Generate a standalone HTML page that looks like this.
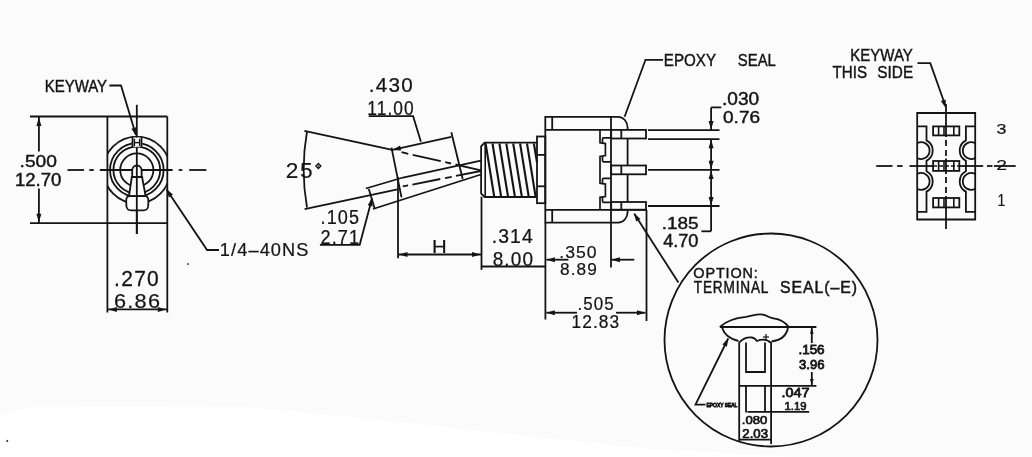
<!DOCTYPE html>
<html><head><meta charset="utf-8"><style>html,body{margin:0;padding:0;background:#fbfbfb;width:1032px;height:457px;overflow:hidden}</style></head>
<body><svg width="1032" height="457" viewBox="0 0 1032 457" style="display:block" stroke="#141414" stroke-linecap="butt"><rect x="0" y="0" width="1032" height="457" fill="#fbfbfb" stroke="none"/>
<path d="M0,414 L40,406 L250,407 L380,420 L490,432 L650,449 L800,457 L0,457 Z" fill="#ffffff" stroke="none"/>
<line x1="30.0" y1="116.5" x2="167.3" y2="116.5" stroke-width="1.8"/>
<line x1="30.0" y1="223.2" x2="167.3" y2="223.2" stroke-width="1.8"/>
<line x1="107.4" y1="116.5" x2="107.4" y2="312.5" stroke-width="1.8"/>
<line x1="167.3" y1="116.5" x2="167.3" y2="312.5" stroke-width="1.8"/>
<line x1="38.9" y1="116.5" x2="38.9" y2="151.5" stroke-width="1.8"/>
<polygon points="38.9,117.5 41.4,126.0 36.4,126.0" fill="#141414" stroke="none"/>
<line x1="38.9" y1="188.5" x2="38.9" y2="223.2" stroke-width="1.8"/>
<polygon points="38.9,222.2 36.4,213.7 41.4,213.7" fill="#141414" stroke="none"/>
<line x1="107.4" y1="309.4" x2="167.3" y2="309.4" stroke-width="1.8"/>
<polygon points="108.4,309.4 116.9,306.9 116.9,311.9" fill="#141414" stroke="none"/>
<polygon points="166.3,309.4 157.8,311.9 157.8,306.9" fill="#141414" stroke="none"/>
<clipPath id="rc"><rect x="107.4" y="100" width="59.9" height="140"/></clipPath>
<g clip-path="url(#rc)">
<circle cx="136.8" cy="170.0" r="33.4" stroke-width="1.8" fill="none"/>
</g>
<circle cx="136.8" cy="170.0" r="26.8" stroke-width="1.8" fill="none"/>
<circle cx="136.8" cy="170.0" r="23.4" stroke-width="1.8" fill="none"/>
<circle cx="136.8" cy="170.0" r="16.6" stroke-width="1.8" fill="none"/>
<rect x="131.9" y="137.6" width="10.3" height="9.2" fill="#fbfbfb" stroke="none"/>
<line x1="132.5" y1="136.2" x2="132.5" y2="147.8" stroke-width="1.8"/>
<line x1="141.5" y1="136.2" x2="141.5" y2="147.8" stroke-width="1.8"/>
<line x1="134.4" y1="138.8" x2="134.4" y2="146.0" stroke-width="1.4"/>
<line x1="139.6" y1="138.8" x2="139.6" y2="146.0" stroke-width="1.4"/>
<line x1="134.4" y1="142.6" x2="139.6" y2="142.6" stroke-width="1.4"/>
<line x1="67.5" y1="170.0" x2="84.0" y2="170.0" stroke-width="1.8"/>
<line x1="89.3" y1="170.0" x2="93.8" y2="170.0" stroke-width="1.8"/>
<line x1="99.8" y1="170.0" x2="172.6" y2="170.0" stroke-width="1.8"/>
<line x1="178.7" y1="170.0" x2="182.4" y2="170.0" stroke-width="1.8"/>
<line x1="189.2" y1="170.0" x2="206.4" y2="170.0" stroke-width="1.8"/>
<line x1="136.8" y1="104.8" x2="136.8" y2="137.5" stroke-width="1.8"/>
<line x1="136.8" y1="147.0" x2="136.8" y2="234.0" stroke-width="1.8"/>
<path d="M132.2,177 L132.2,170.5 A4.7,5 0 0 1 141.6,170.5 L141.6,177 Z" stroke-width="1.8" fill="#fbfbfb"/>
<line x1="132.2" y1="177.0" x2="141.6" y2="177.0" stroke-width="1.8"/>
<path d="M131.8,177 L129,196.2 L145.6,196.2 L142.1,177 Z" stroke-width="1.8" fill="#fbfbfb"/>
<path d="M129,196.2 C126,196.5 126,199 126.4,206 C126.8,209.5 128,210.3 131,210.3 L143.5,210.3 C146.5,210.3 147.8,209.5 148.2,206 C148.6,199 148.5,196.5 145.6,196.2 Z" stroke-width="1.8" fill="#fbfbfb"/>
<line x1="136.8" y1="165.0" x2="136.8" y2="234.0" stroke-width="1.8"/>
<polyline points="109.4,85.5 121.0,85.5 135.8,134.5" stroke-width="1.8" fill="none"/>
<polygon points="136.3,136.2 131.4,128.8 136.2,127.3" fill="#141414" stroke="none"/>
<polyline points="166.7,189.8 207.1,250.0 219.0,250.0" stroke-width="1.8" fill="none"/>
<polygon points="166.2,189.0 173.0,194.6 168.9,197.4" fill="#141414" stroke="none"/>
<line x1="304.4" y1="130.8" x2="392.3" y2="149.9" stroke-width="1.8"/>
<line x1="401.6" y1="152.1" x2="408.3" y2="153.8" stroke-width="1.8"/>
<line x1="412.7" y1="154.9" x2="440.8" y2="161.2" stroke-width="1.8"/>
<line x1="445.2" y1="162.2" x2="451.0" y2="163.5" stroke-width="1.8"/>
<line x1="455.5" y1="164.5" x2="480.9" y2="170.4" stroke-width="1.8"/>
<line x1="304.6" y1="209.1" x2="397.5" y2="189.3" stroke-width="1.8"/>
<line x1="402.8" y1="186.4" x2="408.1" y2="185.4" stroke-width="1.8"/>
<line x1="412.4" y1="184.6" x2="440.3" y2="179.0" stroke-width="1.8"/>
<line x1="445.1" y1="178.1" x2="451.7" y2="176.8" stroke-width="1.8"/>
<line x1="456.0" y1="175.9" x2="480.9" y2="171.0" stroke-width="1.8"/>
<path d="M307,131.5 A219,219 0 0 0 307,207.5" stroke-width="1.8" fill="none"/>
<line x1="392.3" y1="149.9" x2="451.3" y2="136.9" stroke-width="1.8"/>
<polygon points="392.3,149.9 400.1,145.6 401.1,150.5" fill="#141414" stroke="none"/>
<line x1="391.5" y1="147.6" x2="401.5" y2="197.4" stroke-width="1.8"/>
<line x1="451.3" y1="132.3" x2="462.7" y2="179.0" stroke-width="1.8"/>
<polyline points="365.8,188.5 403.0,177.5 480.9,160.6" stroke-width="1.8" fill="none"/>
<line x1="373.0" y1="209.0" x2="480.9" y2="174.5" stroke-width="1.8"/>
<line x1="368.8" y1="189.0" x2="374.5" y2="208.0" stroke-width="1.8"/>
<polyline points="368.7,116.2 413.1,116.2 420.9,141.8" stroke-width="1.8" fill="none"/>
<polyline points="319.9,244.8 359.7,244.8 372.0,198.5" stroke-width="1.8" fill="none"/>
<polygon points="372.2,197.7 372.5,206.6 367.7,205.3" fill="#141414" stroke="none"/>
<line x1="398.0" y1="177.0" x2="398.0" y2="258.2" stroke-width="1.8"/>
<line x1="481.5" y1="196.7" x2="481.5" y2="269.9" stroke-width="1.8"/>
<line x1="398.0" y1="254.5" x2="481.5" y2="254.5" stroke-width="1.8"/>
<polygon points="399.0,254.5 407.5,252.0 407.5,257.0" fill="#141414" stroke="none"/>
<polygon points="480.5,254.5 472.0,257.0 472.0,252.0" fill="#141414" stroke="none"/>
<line x1="481.5" y1="266.5" x2="545.4" y2="266.5" stroke-width="1.8"/>
<path d="M537,142.7 L484.6,142.7 L481.1,146.3 L481.1,193.4 L484.6,197 L537,197" stroke-width="1.8" fill="none"/>
<line x1="485.2" y1="142.7" x2="485.2" y2="197.0" stroke-width="1.6"/>
<line x1="485.6" y1="143.5" x2="494.2" y2="196.5" stroke-width="2.1"/>
<line x1="492.5" y1="143.5" x2="501.1" y2="196.5" stroke-width="2.1"/>
<line x1="499.4" y1="143.5" x2="508.0" y2="196.5" stroke-width="2.1"/>
<line x1="506.3" y1="143.5" x2="514.9" y2="196.5" stroke-width="2.1"/>
<line x1="513.2" y1="143.5" x2="521.8" y2="196.5" stroke-width="2.1"/>
<line x1="520.1" y1="143.5" x2="528.7" y2="196.5" stroke-width="2.1"/>
<line x1="527.0" y1="143.5" x2="535.6" y2="196.5" stroke-width="2.1"/>
<line x1="533.9" y1="143.5" x2="537.0" y2="162.6" stroke-width="2.1"/>
<rect x="537" y="136.5" width="8.3" height="66.7" fill="none" stroke-width="1.8"/>
<line x1="537.0" y1="154.9" x2="545.3" y2="154.9" stroke-width="1.8"/>
<line x1="537.0" y1="186.3" x2="545.3" y2="186.3" stroke-width="1.8"/>
<path d="M545.3,116.8 L618.2,116.8 A9.4,11 0 0 1 627.6,127.8 L627.6,212 A9.4,10.6 0 0 1 618.2,222.6 L545.3,222.6 Z" stroke-width="1.8" fill="none"/>
<line x1="552.2" y1="116.8" x2="552.2" y2="129.9" stroke-width="1.8"/>
<line x1="552.2" y1="209.7" x2="552.2" y2="222.4" stroke-width="1.8"/>
<line x1="545.3" y1="129.9" x2="646.0" y2="129.9" stroke-width="1.8"/>
<line x1="545.3" y1="209.9" x2="646.0" y2="209.9" stroke-width="1.8"/>
<line x1="611.0" y1="116.8" x2="611.0" y2="267.4" stroke-width="1.8"/>
<path d="M600,129.9 L600,142.8 L605.4,143.6 L605.4,155.6 L600,156.4 L600,183.3 L605.4,184.1 L605.4,196.5 L600,197.3 L600,209.9" stroke-width="1.7" fill="none"/>
<path d="M611,137.8 L603.6,137.8 Q602.5,137.8 602.5,138.9 L602.5,143.2 M602.5,156.3 L602.5,160.6 Q602.5,161.8 603.6,161.8 L611,161.8" stroke-width="1.7" fill="none"/>
<path d="M611,178.3 L603.6,178.3 Q602.5,178.3 602.5,179.5 L602.5,183.7 M602.5,196.9 L602.5,201.1 Q602.5,202.3 603.6,202.3 L611,202.3" stroke-width="1.7" fill="none"/>
<rect x="611.2" y="129.9" width="34.8" height="8.6" fill="#fbfbfb" stroke-width="1.8"/>
<line x1="621.3" y1="129.9" x2="621.3" y2="138.5" stroke-width="1.8"/>
<rect x="611.2" y="165.5" width="34.8" height="8.8" fill="#fbfbfb" stroke-width="1.8"/>
<line x1="621.3" y1="165.5" x2="621.3" y2="174.3" stroke-width="1.8"/>
<rect x="611.2" y="202.0" width="34.8" height="7.7" fill="#fbfbfb" stroke-width="1.8"/>
<line x1="621.3" y1="202.0" x2="621.3" y2="209.7" stroke-width="1.8"/>
<line x1="648.0" y1="130.1" x2="719.5" y2="130.1" stroke-width="1.8"/>
<line x1="648.0" y1="139.2" x2="719.5" y2="139.2" stroke-width="1.8"/>
<line x1="648.0" y1="169.9" x2="719.5" y2="169.9" stroke-width="1.8"/>
<line x1="648.0" y1="206.0" x2="719.5" y2="206.0" stroke-width="1.8"/>
<line x1="711.1" y1="107.4" x2="711.1" y2="130.1" stroke-width="1.8"/>
<polygon points="711.1,129.5 708.6,121.0 713.6,121.0" fill="#141414" stroke="none"/>
<line x1="711.1" y1="107.4" x2="721.3" y2="107.4" stroke-width="1.8"/>
<line x1="711.1" y1="139.2" x2="711.1" y2="169.9" stroke-width="1.8"/>
<polygon points="711.1,139.8 713.6,148.3 708.6,148.3" fill="#141414" stroke="none"/>
<polygon points="711.1,169.3 708.6,160.8 713.6,160.8" fill="#141414" stroke="none"/>
<line x1="711.1" y1="169.9" x2="711.1" y2="231.3" stroke-width="1.8"/>
<polygon points="711.1,170.5 713.6,179.0 708.6,179.0" fill="#141414" stroke="none"/>
<polygon points="711.1,205.4 708.6,196.9 713.6,196.9" fill="#141414" stroke="none"/>
<line x1="701.4" y1="231.3" x2="711.1" y2="231.3" stroke-width="1.8"/>
<polyline points="624.6,116.8 645.5,59.8 663.0,59.8" stroke-width="1.8" fill="none"/>
<line x1="545.4" y1="223.0" x2="545.4" y2="319.5" stroke-width="1.8"/>
<line x1="568.4" y1="259.7" x2="546.4" y2="259.7" stroke-width="1.8"/>
<polygon points="546.4,259.7 554.9,257.2 554.9,262.2" fill="#141414" stroke="none"/>
<line x1="634.3" y1="259.7" x2="611.4" y2="259.7" stroke-width="1.8"/>
<polygon points="611.4,259.7 619.9,257.2 619.9,262.2" fill="#141414" stroke="none"/>
<line x1="646.5" y1="210.0" x2="646.5" y2="321.0" stroke-width="1.8"/>
<line x1="546.4" y1="312.7" x2="577.0" y2="312.7" stroke-width="1.8"/>
<polygon points="546.4,312.7 554.9,310.2 554.9,315.2" fill="#141414" stroke="none"/>
<line x1="616.0" y1="312.7" x2="645.5" y2="312.7" stroke-width="1.8"/>
<polygon points="645.5,312.7 637.0,315.2 637.0,310.2" fill="#141414" stroke="none"/>
<line x1="634.3" y1="213.8" x2="678.4" y2="282.6" stroke-width="1.8"/>
<polygon points="633.8,213.0 640.4,218.9 636.2,221.5" fill="#141414" stroke="none"/>
<circle cx="771" cy="340" r="106.5" stroke-width="1.8" fill="none"/>
<path d="M719.9,327 C725,322 735,318 746,316.9 C752,316 758,313.5 763,314.7 C768,316 770,318 773.5,318.4 C778,319 784,320.5 788.8,327" stroke-width="1.8" fill="none"/>
<line x1="719.9" y1="327.0" x2="816.4" y2="327.0" stroke-width="1.8"/>
<path d="M722,327.5 C724,334 730,339 738.5,341 M788,327.5 C787,334 782,340 771.5,341.5" stroke-width="1.8" fill="none"/>
<path d="M739.2,441 L739.2,342.5 C743,338.5 748,337 752,337.5 C755,338 757,341 757,341 C762,339 767,339 771.1,343 L771.1,444" stroke-width="1.8" fill="none"/>
<polyline points="746.0,342.5 746.0,372.0 765.0,372.0 765.0,342.5" stroke-width="1.8" fill="none"/>
<line x1="746.0" y1="385.8" x2="746.0" y2="412.5" stroke-width="1.8"/>
<line x1="765.0" y1="385.8" x2="765.0" y2="412.5" stroke-width="1.8"/>
<line x1="739.2" y1="385.8" x2="816.4" y2="385.8" stroke-width="1.8"/>
<line x1="766.0" y1="340.0" x2="766.0" y2="334.0" stroke-width="1.2"/>
<line x1="763.0" y1="337.0" x2="769.0" y2="337.0" stroke-width="1.2"/>
<line x1="811.8" y1="327.0" x2="811.8" y2="343.0" stroke-width="1.8"/>
<line x1="811.8" y1="372.0" x2="811.8" y2="385.8" stroke-width="1.8"/>
<polygon points="811.8,327.8 813.6,333.8 810.0,333.8" fill="#141414" stroke="none"/>
<polygon points="811.8,385.0 810.0,379.0 813.6,379.0" fill="#141414" stroke="none"/>
<line x1="747.4" y1="411.9" x2="809.2" y2="411.9" stroke-width="1.8"/>
<line x1="739.2" y1="439.7" x2="771.1" y2="439.7" stroke-width="1.8"/>
<polyline points="728.2,338.5 695.5,404.7 705.5,404.7" stroke-width="1.8" fill="none"/>
<polygon points="728.4,338.0 726.9,346.7 722.4,344.5" fill="#141414" stroke="none"/>
<polygon points="917.2,113.0 975.2,113.0 975.2,219.5 917.2,219.5" stroke-width="1.8" fill="none"/>
<path d="M917.2,126.4 L926.5,126.4 L926.5,140.4 A11.5,11.5 0 0 1 926.5,160.8 L926.5,171.2 A11.5,11.5 0 0 1 926.5,191.6 L926.5,211.9 L917.2,211.9" stroke-width="1.8" fill="none"/>
<path d="M917.2,143.2 A8.4,8.4 0 1 1 917.2,158.0" stroke-width="1.8" fill="none"/>
<path d="M917.2,174.0 A8.4,8.4 0 1 1 917.2,188.8" stroke-width="1.8" fill="none"/>
<path d="M975.2,126.4 L965.9000000000001,126.4 L965.9000000000001,140.4 A11.5,11.5 0 0 0 965.9000000000001,160.8 L965.9000000000001,171.2 A11.5,11.5 0 0 0 965.9000000000001,191.6 L965.9000000000001,211.9 L975.2,211.9" stroke-width="1.8" fill="none"/>
<path d="M975.2,143.2 A8.4,8.4 0 1 0 975.2,158.0" stroke-width="1.8" fill="none"/>
<path d="M975.2,174.0 A8.4,8.4 0 1 0 975.2,188.8" stroke-width="1.8" fill="none"/>
<rect x="933.1" y="126.4" width="26.2" height="9.0" fill="#fbfbfb" stroke-width="1.8"/>
<line x1="938.6" y1="126.4" x2="938.6" y2="135.4" stroke-width="1.6"/>
<line x1="944.0" y1="126.4" x2="944.0" y2="135.4" stroke-width="1.6"/>
<line x1="953.8" y1="126.4" x2="953.8" y2="135.4" stroke-width="1.6"/>
<rect x="933.1" y="161.0" width="26.2" height="9.9" fill="#fbfbfb" stroke-width="1.8"/>
<line x1="938.6" y1="161.0" x2="938.6" y2="170.9" stroke-width="1.6"/>
<line x1="944.0" y1="161.0" x2="944.0" y2="170.9" stroke-width="1.6"/>
<line x1="953.8" y1="161.0" x2="953.8" y2="170.9" stroke-width="1.6"/>
<rect x="933.1" y="198.0" width="26.2" height="9.4" fill="#fbfbfb" stroke-width="1.8"/>
<line x1="938.6" y1="198.0" x2="938.6" y2="207.4" stroke-width="1.6"/>
<line x1="944.0" y1="198.0" x2="944.0" y2="207.4" stroke-width="1.6"/>
<line x1="953.8" y1="198.0" x2="953.8" y2="207.4" stroke-width="1.6"/>
<line x1="876.2" y1="166.0" x2="892.5" y2="166.0" stroke-width="1.8"/>
<line x1="897.1" y1="166.0" x2="902.6" y2="166.0" stroke-width="1.8"/>
<line x1="909.5" y1="166.0" x2="933.0" y2="166.0" stroke-width="1.8"/>
<line x1="933.0" y1="166.0" x2="959.0" y2="166.0" stroke-width="1.5" stroke-dasharray="4,2"/>
<line x1="959.0" y1="166.0" x2="983.2" y2="166.0" stroke-width="1.8"/>
<line x1="987.0" y1="166.0" x2="992.5" y2="166.0" stroke-width="1.8"/>
<line x1="994.0" y1="166.0" x2="1015.7" y2="166.0" stroke-width="1.8"/>
<line x1="946.0" y1="104.0" x2="946.0" y2="137.0" stroke-width="1.8"/>
<line x1="946.0" y1="140.0" x2="946.0" y2="146.0" stroke-width="1.8"/>
<line x1="946.0" y1="150.0" x2="946.0" y2="156.0" stroke-width="1.8"/>
<line x1="946.0" y1="158.5" x2="946.0" y2="174.0" stroke-width="1.8"/>
<line x1="946.0" y1="177.0" x2="946.0" y2="183.0" stroke-width="1.8"/>
<line x1="946.0" y1="187.0" x2="946.0" y2="193.0" stroke-width="1.8"/>
<line x1="946.0" y1="196.0" x2="946.0" y2="229.0" stroke-width="1.8"/>
<polyline points="917.5,63.2 930.3,63.2 944.8,104.0" stroke-width="1.8" fill="none"/>
<polygon points="945.8,108.3 940.9,100.9 945.6,99.4" fill="#141414" stroke="none"/>
<g font-family="Liberation Sans, sans-serif" style="opacity:0.999">
<text transform="translate(44.70,91.70) scale(0.1498,0.1739)" font-size="100" letter-spacing="0" stroke="#141414" stroke-width="2.5" fill="#141414">KEYWAY</text>
<text transform="translate(19.57,167.23) scale(0.1923,0.1690)" font-size="100" letter-spacing="0" stroke="#141414" stroke-width="2.5" fill="#141414">.500</text>
<text transform="translate(14.91,185.82) scale(0.1861,0.1845)" font-size="100" letter-spacing="0" stroke="#141414" stroke-width="2.5" fill="#141414">12.70</text>
<text transform="translate(114.11,285.78) scale(0.2100,0.2155)" font-size="100" letter-spacing="6" stroke="#141414" stroke-width="1.2" fill="#141414">.270</text>
<text transform="translate(113.92,307.51) scale(0.2167,0.1930)" font-size="100" letter-spacing="6" stroke="#141414" stroke-width="1.2" fill="#141414">6.86</text>
<text transform="translate(219.84,255.80) scale(0.1821,0.1771)" font-size="100" letter-spacing="6" stroke="#141414" stroke-width="1.2" fill="#141414">1/4–40NS</text>
<text transform="translate(368.84,91.69) scale(0.2070,0.2056)" font-size="100" letter-spacing="6" stroke="#141414" stroke-width="1.2" fill="#141414">.430</text>
<text transform="translate(367.31,114.60) scale(0.1737,0.2028)" font-size="100" letter-spacing="6" stroke="#141414" stroke-width="1.2" fill="#141414">11.00</text>
<text transform="translate(285.86,177.58) scale(0.2278,0.2155)" font-size="100" letter-spacing="6" stroke="#141414" stroke-width="0.5" fill="#141414">25</text>
<text transform="translate(320.57,223.50) scale(0.1809,0.1986)" font-size="100" letter-spacing="6" stroke="#141414" stroke-width="1.2" fill="#141414">.105</text>
<text transform="translate(320.49,243.90) scale(0.1813,0.1971)" font-size="100" letter-spacing="6" stroke="#141414" stroke-width="1.2" fill="#141414">2.71</text>
<text transform="translate(431.97,252.70) scale(0.2036,0.1870)" font-size="100" letter-spacing="6" stroke="#141414" stroke-width="1" fill="#141414">H</text>
<text transform="translate(491.66,242.71) scale(0.1935,0.1944)" font-size="100" letter-spacing="6" stroke="#141414" stroke-width="1.2" fill="#141414">.314</text>
<text transform="translate(492.64,265.71) scale(0.1898,0.1944)" font-size="100" letter-spacing="6" stroke="#141414" stroke-width="1.2" fill="#141414">8.00</text>
<text transform="translate(559.22,258.03) scale(0.1760,0.1718)" font-size="100" letter-spacing="6" stroke="#141414" stroke-width="1.2" fill="#141414">.350</text>
<text transform="translate(560.11,274.83) scale(0.1725,0.1718)" font-size="100" letter-spacing="6" stroke="#141414" stroke-width="1.2" fill="#141414">8.89</text>
<text transform="translate(577.58,310.12) scale(0.1693,0.1817)" font-size="100" letter-spacing="6" stroke="#141414" stroke-width="1.2" fill="#141414">.505</text>
<text transform="translate(571.61,327.91) scale(0.1733,0.1859)" font-size="100" letter-spacing="6" stroke="#141414" stroke-width="1.2" fill="#141414">12.83</text>
<text transform="translate(663.79,66.44) scale(0.1515,0.1606)" font-size="100" letter-spacing="0" stroke="#141414" stroke-width="2.5" fill="#141414">EPOXY</text>
<text transform="translate(737.86,66.44) scale(0.1486,0.1606)" font-size="100" letter-spacing="0" stroke="#141414" stroke-width="2.5" fill="#141414">SEAL</text>
<text transform="translate(722.08,104.72) scale(0.1907,0.1789)" font-size="100" letter-spacing="0" stroke="#141414" stroke-width="2.5" fill="#141414">.030</text>
<text transform="translate(723.04,122.73) scale(0.1903,0.1676)" font-size="100" letter-spacing="0" stroke="#141414" stroke-width="2.5" fill="#141414">0.76</text>
<text transform="translate(661.79,228.53) scale(0.1895,0.1676)" font-size="100" letter-spacing="0" stroke="#141414" stroke-width="2.5" fill="#141414">.185</text>
<text transform="translate(663.14,247.32) scale(0.1815,0.1775)" font-size="100" letter-spacing="0" stroke="#141414" stroke-width="2.5" fill="#141414">4.70</text>
<text transform="translate(850.30,60.70) scale(0.1502,0.1710)" font-size="100" letter-spacing="0" stroke="#141414" stroke-width="2.5" fill="#141414">KEYWAY</text>
<text transform="translate(832.50,78.23) scale(0.1516,0.1662)" font-size="100" letter-spacing="0" stroke="#141414" stroke-width="2.5" fill="#141414">THIS</text>
<text transform="translate(877.33,78.23) scale(0.1536,0.1662)" font-size="100" letter-spacing="0" stroke="#141414" stroke-width="2.5" fill="#141414">SIDE</text>
<text transform="translate(996.59,133.95) scale(0.1787,0.1535)" font-size="100" letter-spacing="6" stroke="#141414" stroke-width="1.2" fill="#141414">3</text>
<text transform="translate(996.33,170.20) scale(0.1935,0.1543)" font-size="100" letter-spacing="6" stroke="#141414" stroke-width="1.2" fill="#141414">2</text>
<text transform="translate(997.38,206.30) scale(0.1395,0.1667)" font-size="100" letter-spacing="6" stroke="#141414" stroke-width="1.2" fill="#141414">1</text>
<text transform="translate(693.28,278.15) scale(0.1446,0.1479)" font-size="100" letter-spacing="6" stroke="#141414" stroke-width="3" fill="#141414">OPTION:</text>
<text transform="translate(693.73,293.40) scale(0.1365,0.1652)" font-size="100" letter-spacing="6" stroke="#141414" stroke-width="3" fill="#141414">TERMINAL</text>
<text transform="translate(780.01,293.40) scale(0.1585,0.1629)" font-size="100" letter-spacing="6" stroke="#141414" stroke-width="3" fill="#141414">SEAL(–E)</text>
<text transform="translate(798.39,354.37) scale(0.1348,0.1296)" font-size="100" letter-spacing="0" stroke="#141414" stroke-width="6" fill="#141414">.156</text>
<text transform="translate(799.08,368.77) scale(0.1312,0.1296)" font-size="100" letter-spacing="0" stroke="#141414" stroke-width="6" fill="#141414">3.96</text>
<text transform="translate(781.40,397.27) scale(0.1442,0.1296)" font-size="100" letter-spacing="0" stroke="#141414" stroke-width="6" fill="#141414">.047</text>
<text transform="translate(784.60,410.48) scale(0.1126,0.1183)" font-size="100" letter-spacing="0" stroke="#141414" stroke-width="6" fill="#141414">1.19</text>
<text transform="translate(741.82,424.19) scale(0.1308,0.1141)" font-size="100" letter-spacing="0" stroke="#141414" stroke-width="6" fill="#141414">.080</text>
<text transform="translate(742.34,437.88) scale(0.1319,0.1225)" font-size="100" letter-spacing="0" stroke="#141414" stroke-width="6" fill="#141414">2.03</text>
<text transform="translate(706.50,406.94) scale(0.0494,0.0592)" font-size="100" letter-spacing="0" stroke="#141414" stroke-width="16" fill="#141414">EPOXY SEAL</text>
</g>
<polygon points="318.4,163.5 320.9,166.0 318.4,168.5 315.9,166.0" stroke-width="1.3" fill="none"/>
<circle cx="318.4" cy="166" r="0.6" stroke-width="0.5" fill="#141414"/>
<circle cx="188" cy="264" r="0.6" stroke-width="0.6" fill="#141414"/>
<circle cx="7.3" cy="441" r="0.7" stroke-width="0.6" fill="#141414"/></svg></body></html>
